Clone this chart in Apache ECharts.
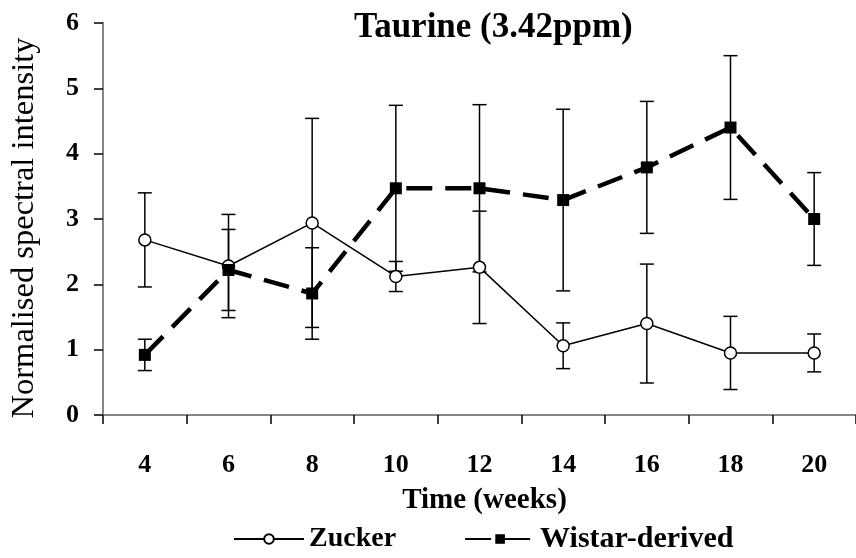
<!DOCTYPE html>
<html>
<head>
<meta charset="utf-8">
<script src="https://cdn.jsdelivr.net/npm/echarts@6/dist/echarts.min.js"></script>
<style>
  html, body { margin: 0; padding: 0; background: #fff; }
  #chart { width: 856px; height: 558px; }
</style>
</head>
<body>
<div id="chart"></div>
<script>
// Taurine (3.42 ppm) signal over time, mean ± error per group
const weeks = ['4', '6', '8', '10', '12', '14', '16', '18', '20'];
const zucker = [2.68, 2.28, 2.94, 2.12, 2.26, 1.06, 1.40, 0.95, 0.95];
const zuckerErr = [0.72, 0.79, 1.60, 0.23, 0.86, 0.35, 0.91, 0.56, 0.29];
const wistar = [0.92, 2.22, 1.86, 3.47, 3.47, 3.29, 3.79, 4.40, 3.00];
const wistarErr = [0.24, 0.62, 0.70, 1.27, 1.28, 1.39, 1.01, 1.10, 0.71];
const yTicks = [0, 1, 2, 3, 4, 5, 6];

const SERIF = "'Liberation Serif', 'Times New Roman', serif";

// rows of [category index, low, high] for the error bars
function errorRows(means, errs) {
  return means.map((m, i) => [i, m - errs[i], m + errs[i]]);
}

function renderErrorBar(params, api) {
  const x = api.value(0);
  const lo = api.coord([x, api.value(1)]);
  const hi = api.coord([x, api.value(2)]);
  const half = 7;
  const style = { stroke: '#000', lineWidth: 1.5, fill: null };
  return {
    type: 'group',
    children: [
      { type: 'line', shape: { x1: hi[0], y1: hi[1], x2: lo[0], y2: lo[1] }, style },
      { type: 'line', shape: { x1: hi[0] - half, y1: hi[1], x2: hi[0] + half, y2: hi[1] }, style },
      { type: 'line', shape: { x1: lo[0] - half, y1: lo[1], x2: lo[0] + half, y2: lo[1] }, style }
    ]
  };
}

const chart = echarts.init(document.getElementById('chart'), null, { renderer: 'canvas' });

chart.setOption({
  animation: false,
  backgroundColor: '#fff',
  title: {
    text: 'Taurine (3.42ppm)',
    left: 349,
    top: 5,
    textStyle: { fontFamily: SERIF, fontWeight: 'bold', fontSize: 35, color: '#000' }
  },
  legend: {
    data: [
      { name: 'Zucker', textStyle: { fontSize: 28 } },
      { name: 'Wistar-derived', textStyle: { fontSize: 30 } }
    ],
    left: 228,
    top: 519,
    itemWidth: 70,
    itemHeight: 12,
    itemGap: 68,
    textStyle: { fontFamily: SERIF, fontWeight: 'bold', fontSize: 28, color: '#000' }
  },
  grid: { left: 100, top: 23, width: 761, height: 392, containLabel: false },
  xAxis: {
    type: 'category',
    data: weeks,
    boundaryGap: true,
    name: 'Time (weeks)',
    nameLocation: 'middle',
    nameGap: 71,
    nameTextStyle: { fontFamily: SERIF, fontWeight: 'bold', fontSize: 29, color: '#000', padding: [0, 0, 0, 10] },
    axisLine: { lineStyle: { color: '#868686', width: 2 } },
    axisTick: { show: true, inside: false, length: 9, alignWithLabel: false, lineStyle: { color: '#000', width: 1.5 } },
    axisLabel: { margin: 37, fontFamily: SERIF, fontWeight: 'bold', fontSize: 26, color: '#000' },
    splitLine: { show: false }
  },
  yAxis: {
    type: 'value',
    min: yTicks[0],
    max: yTicks[yTicks.length - 1],
    interval: 1,
    name: 'Normalised spectral intensity',
    nameLocation: 'middle',
    nameGap: 62,
    nameTextStyle: { fontFamily: SERIF, fontSize: 32.5, color: '#000', padding: [0, 18, 0, 0] },
    axisLine: { show: true, lineStyle: { color: '#868686', width: 2 } },
    axisTick: { show: true, inside: false, length: 9, lineStyle: { color: '#000', width: 1.5 } },
    axisLabel: { margin: 24, fontFamily: SERIF, fontWeight: 'bold', fontSize: 26, color: '#000' },
    splitLine: { show: false }
  },
  series: [
    {
      name: 'Zucker error',
      type: 'custom',
      renderItem: renderErrorBar,
      data: errorRows(zucker, zuckerErr),
      encode: { x: 0, y: [1, 2] },
      z: 1,
      silent: true
    },
    {
      name: 'Wistar-derived error',
      type: 'custom',
      renderItem: renderErrorBar,
      data: errorRows(wistar, wistarErr),
      encode: { x: 0, y: [1, 2] },
      z: 1,
      silent: true
    },
    {
      name: 'Zucker',
      type: 'line',
      data: zucker,
      z: 3,
      symbol: 'circle',
      symbolSize: 12,
      lineStyle: { color: '#000', width: 1.5 },
      itemStyle: { color: '#fff', borderColor: '#000', borderWidth: 1.5 }
    },
    {
      name: 'Wistar-derived',
      type: 'line',
      data: wistar,
      z: 4,
      symbol: 'rect',
      symbolSize: 12,
      lineStyle: { color: '#000', width: 4.5, type: [26, 13], cap: 'butt' },
      itemStyle: { color: '#000', borderColor: '#000', borderWidth: 0 }
    }
  ]
});
</script>
</body>
</html>
